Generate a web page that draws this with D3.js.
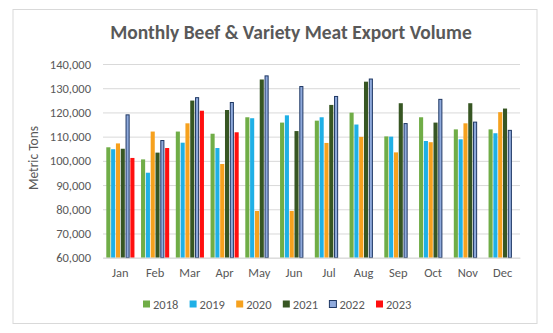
<!DOCTYPE html>
<html><head><meta charset="utf-8">
<script src="https://cdn.jsdelivr.net/npm/d3@7"></script>
<style>body{margin:0;background:#fff;}svg{display:block;}</style>
</head><body>
<svg id="c" width="553" height="333"></svg>
<script>
const months = ["Jan","Feb","Mar","Apr","May","Jun","Jul","Aug","Sep","Oct","Nov","Dec"];
const years = ["2018","2019","2020","2021","2022","2023"];
const colors = ["#70AD47","#1FB0E6","#F6A11E","#375623","#8FAADC","#FF0F0F"];
const v2018 = [105600,100600,112100,111200,118000,115800,116600,119900,110100,118000,113000,113000];
const v2019 = [104800,95100,107500,105300,117600,118800,118000,115000,110000,108200,108900,111400];
const v2020 = [107200,112100,115500,98700,79300,79300,107400,109900,103500,107700,115500,120100];
const v2021 = [105000,103400,124900,121000,133600,112300,123100,132700,123800,115800,123800,121600];
const v2022 = [119200,108600,126300,124300,135300,130900,126800,134000,115600,125600,116200,112800];
const v2023 = [101200,105300,120700,111800,null,null,null,null,null,null,null,null];
const series = [v2018,v2019,v2020,v2021,v2022,v2023];
const yTicks = [60000,70000,80000,90000,100000,110000,120000,130000,140000];

const svg = d3.select("#c");
const font = "Carlito, 'Open Sans', Lato, sans-serif";
svg.append("rect").attr("x",13).attr("y",9.5).attr("width",524).attr("height",314)
  .attr("fill","#fff").attr("stroke","#D9D9D9").attr("stroke-width",1);

const L=103, R=520, T=64, B=257.7;
const x = d3.scaleBand().domain(months).range([L,R]).paddingInner(0.19).paddingOuter(0.095);
const x1 = d3.scaleBand().domain(years).range([0,x.bandwidth()]).paddingInner(0.15);
const y = d3.scaleLinear().domain([60000,140000]).range([B,T]);

const grid = svg.append("g").attr("transform",`translate(${L},0)`)
  .call(d3.axisLeft(y).tickValues(yTicks).tickSize(-(R-L)).tickFormat(""));
grid.select(".domain").remove();
grid.selectAll("line").attr("stroke","#D9D9D9").attr("stroke-width",1);

const yl = svg.append("g").attr("transform",`translate(${L},0)`)
  .call(d3.axisLeft(y).tickValues(yTicks).tickSize(0).tickPadding(12).tickFormat(d3.format(",")));
yl.select(".domain").remove();
yl.selectAll("text").attr("font-family",font).attr("font-size",12.5).attr("fill","#595959");

const g = svg.append("g");
years.forEach((yr,i)=>{
  const data = months.map((m,j)=>({m, v:series[i][j]})).filter(d=>d.v!=null);
  g.selectAll(null).data(data).enter().append("rect")
    .attr("x",d=>x(d.m)+x1(yr)+(yr==="2022"?0.5:0))
    .attr("y",d=>y(d.v)+(yr==="2022"?0.5:0))
    .attr("width",x1.bandwidth()-(yr==="2022"?1:0))
    .attr("height",d=>B-y(d.v)-(yr==="2022"?0.5:0))
    .attr("fill",colors[i])
    .attr("stroke",yr==="2022"?"#1F3864":"none")
    .attr("stroke-width",yr==="2022"?1:0);
});

const xa = svg.append("g").attr("transform",`translate(0,${B})`)
  .call(d3.axisBottom(x).tickSize(0).tickPadding(10));
xa.select(".domain").attr("stroke","#D9D9D9");
xa.selectAll("text").attr("font-family",font).attr("font-size",12.5).attr("fill","#595959");

svg.append("text").attr("x",291).attr("y",39).attr("text-anchor","middle")
  .attr("font-family",font).attr("font-weight","bold").attr("font-size",19.5).attr("fill","#595959")
  .text("Monthly Beef & Variety Meat Export Volume");

svg.append("text").attr("transform","translate(38,158) rotate(-90)").attr("text-anchor","middle")
  .attr("font-family",font).attr("font-size",13.5).attr("fill","#595959").text("Metric Tons");

const lx = d3.scalePoint().domain(years).range([143,376]);
const lg = svg.append("g");
years.forEach((yr,i)=>{
  lg.append("rect").attr("x",lx(yr)).attr("y",300.5).attr("width",7).attr("height",7)
    .attr("fill",colors[i]).attr("stroke",yr==="2022"?"#1F3864":"none").attr("stroke-width",1);
  lg.append("text").attr("x",lx(yr)+10).attr("y",308.5).attr("font-family",font)
    .attr("font-size",12.5).attr("fill","#595959").text(yr);
});
</script>
</body></html>
